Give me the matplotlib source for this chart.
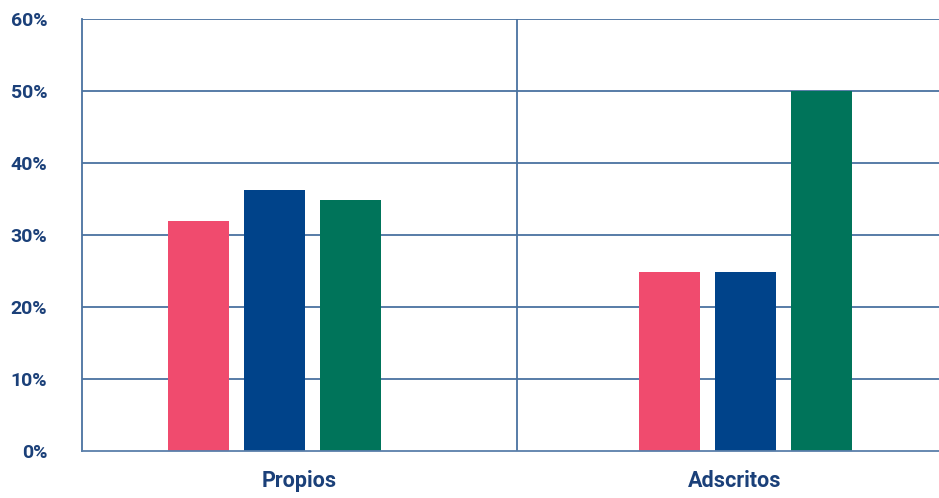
import matplotlib
matplotlib.use("Agg")
import matplotlib.pyplot as plt
import numpy as np

categories = ["Propios", "Adscritos"]
series_names = ["Serie 1", "Serie 2", "Serie 3"]
values = {
    "Serie 1": [31.9, 24.9],
    "Serie 2": [36.3, 24.9],
    "Serie 3": [34.8, 50.0],
}
colors = ["#F04B6E", "#00438A", "#00745A"]
yticks = [0, 10, 20, 30, 40, 50, 60]
ytick_labels = [f"{t}%" for t in yticks]

text_color = "#1B4079"
grid_color = "#4A72A0"

fig = plt.figure(figsize=(9.39, 4.98), dpi=100)
ax = fig.add_axes([82/939, 47/498, 857/939, 432/498])

group_centers = np.array([0.443, 1.525])
offsets = [-0.175, 0.0, 0.175]
bar_w = 0.140
for i, name in enumerate(series_names):
    ax.bar(group_centers + offsets[i], values[name], width=bar_w,
           color=colors[i], zorder=3)

ax.set_xlim(0, 857/435)
ax.set_ylim(0, 60)
ax.set_yticks(yticks)
ax.set_yticklabels(ytick_labels)
ax.set_xticks([0.5, 1.5])
ax.set_xticklabels(categories)

for y in yticks[1:]:
    ax.axhline(y, color=grid_color, lw=1.3, zorder=1)
ax.axvline(1.0, color=grid_color, lw=1.3, zorder=1)

for s in ["top", "right"]:
    ax.spines[s].set_visible(False)
ax.spines["left"].set_color(grid_color)
ax.spines["left"].set_linewidth(1.3)
ax.spines["bottom"].set_color("#5A7FAA")
ax.spines["bottom"].set_linewidth(1.3)
ax.spines["bottom"].set_zorder(4)

ax.tick_params(axis="both", length=0, colors=text_color)
ax.tick_params(axis="y", pad=25)
ax.tick_params(axis="x", pad=14)
for lab in ax.get_yticklabels():
    lab.set_fontfamily("Roboto")
    lab.set_fontweight("bold")
    lab.set_fontsize(14)
    lab.set_color(text_color)
    lab.set_horizontalalignment("right")
for lab in ax.get_xticklabels():
    lab.set_fontfamily("Roboto")
    lab.set_fontweight("bold")
    lab.set_fontsize(15.5)
    lab.set_color(text_color)

fig.savefig("out.png", dpi=100)
